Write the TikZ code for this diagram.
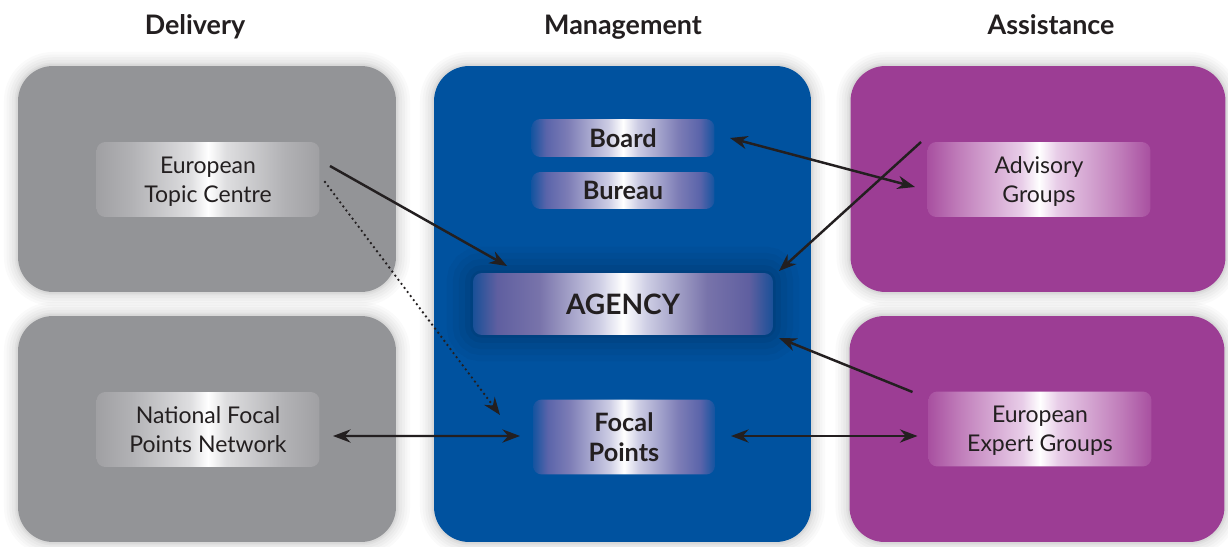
\documentclass[tikz,border=0pt]{standalone}
\usepackage{fontspec}
\setmainfont{Lato}
\usetikzlibrary{arrows.meta}
\definecolor{txt}{RGB}{35,31,32}
\definecolor{boxgray}{RGB}{147,148,151}
\definecolor{boxblue}{RGB}{0,82,159}
\definecolor{boxpurple}{RGB}{156,61,148}
% gray inner shading
\definecolor{g0}{RGB}{160,160,163}
\definecolor{g1}{RGB}{178,178,181}
\definecolor{g2}{RGB}{222,222,224}
\pgfdeclarehorizontalshading{metalgray}{100bp}{color(0bp)=(g0); color(25bp)=(g0); color(33bp)=(g1); color(46bp)=(g2); color(50bp)=(white); color(54bp)=(g2); color(67bp)=(g1); color(75bp)=(g0); color(100bp)=(g0)}
% blue inner shading
\definecolor{b0}{RGB}{20,84,160}
\definecolor{b1}{RGB}{90,100,170}
\definecolor{b2}{RGB}{125,125,182}
\definecolor{b3}{RGB}{205,205,228}
\pgfdeclarehorizontalshading{metalblue}{100bp}{color(0bp)=(b0); color(25bp)=(b0); color(29bp)=(b1); color(35bp)=(b2); color(46bp)=(b3); color(50bp)=(white); color(54bp)=(b3); color(65bp)=(b2); color(71bp)=(b1); color(75bp)=(b0); color(100bp)=(b0)}
% agency shading
\definecolor{a0}{RGB}{25,80,152}
\definecolor{a1}{RGB}{95,95,160}
\definecolor{a2}{RGB}{120,115,170}
\definecolor{a3}{RGB}{205,205,228}
\pgfdeclarehorizontalshading{metalagency}{100bp}{color(0bp)=(a0); color(25bp)=(a0); color(29bp)=(a1); color(36bp)=(a2); color(46bp)=(a3); color(50bp)=(white); color(54bp)=(a3); color(64bp)=(a2); color(71bp)=(a1); color(75bp)=(a0); color(100bp)=(a0)}
% purple inner shading
\definecolor{p0}{RGB}{168,80,160}
\definecolor{p1}{RGB}{192,125,186}
\definecolor{p2}{RGB}{232,205,232}
\pgfdeclarehorizontalshading{metalpurple}{100bp}{color(0bp)=(p0); color(25bp)=(p0); color(32bp)=(p1); color(46bp)=(p2); color(50bp)=(white); color(54bp)=(p2); color(68bp)=(p1); color(75bp)=(p0); color(100bp)=(p0)}
\begin{document}
\begin{tikzpicture}[x=0.02cm,y=-0.02cm,
  halo/.style={preaction={draw=black,opacity=0.02,line width=16pt},
               preaction={draw=black,opacity=0.02,line width=13pt},
               preaction={draw=black,opacity=0.025,line width=10pt},
               preaction={draw=black,opacity=0.025,line width=7pt},
               preaction={draw=black,opacity=0.03,line width=4pt},
               preaction={draw=black,opacity=0.04,line width=2pt}},
  bigbox/.style={halo,rounded corners=0.7cm,minimum width=7.56cm,minimum height=4.52cm,outer sep=0pt,inner sep=0pt},
  inbox/.style={rounded corners=5pt,outer sep=0pt,inner sep=0pt,text=txt,align=center},
  graybox/.style={inbox,shading=metalgray,minimum width=4.46cm,minimum height=1.5cm,text depth=-3.5pt,font=\fontsize{13.1}{16.6}\selectfont},
  purplebox/.style={inbox,shading=metalpurple,minimum width=4.46cm,minimum height=1.5cm,text depth=-3.5pt,font=\fontsize{13.1}{16.6}\selectfont},
  bluebox/.style={inbox,shading=metalblue,minimum width=3.66cm,font=\bfseries\fontsize{14.4}{17}\selectfont},
  title/.style={font=\bfseries\fontsize{15.3}{18}\selectfont,text=txt,anchor=base},
  arr/.style={draw=txt,line width=1.4pt,-{Stealth[length=10pt,width=7.5pt]}},
  darr/.style={draw=txt,line width=1.4pt,{Stealth[length=10pt,width=7.5pt]}-{Stealth[length=10pt,width=7.5pt]}},
  dotarr/.style={draw=txt,line width=1.5pt,line cap=round,dash pattern=on 0pt off 2.9pt,-{Stealth[length=10pt,width=7.5pt]}}]
\useasboundingbox (0,0) rectangle (1228,547);
\fill[white] (0,0) rectangle (1228,547);
% titles
\node[title] (tdel) at (195,34.5) {Delivery};
\node[title] (tman) at (623,34.5) {Management};
\node[title] (tass) at (1051,34.5) {Assistance};
% big boxes
\node[bigbox,fill=boxgray] (gtop) at (207,179) {};
\node[bigbox,fill=boxgray] (gbot) at (207,429) {};
\node[bigbox,fill=boxblue,minimum width=7.54cm,minimum height=9.52cm] (blue) at (622.5,304) {};
\node[bigbox,fill=boxpurple,minimum width=7.5cm] (ptop) at (1038,179) {};
\node[bigbox,fill=boxpurple,minimum width=7.5cm] (pbot) at (1037,429) {};
% inner boxes
\node[graybox] (etc) at (208,179.5) {European\\Topic Centre};
\node[graybox] (nfpn) at (208,429.5) {National Focal\\Points Network};
\node[purplebox] (adv) at (1039,179.5) {Advisory\\Groups};
\node[purplebox] (exp) at (1040,429) {European\\Expert Groups};
\node[bluebox,minimum height=0.76cm] (board) at (623,138) {Board};
\node[bluebox,minimum height=0.74cm] (bureau) at (623,190.5) {Bureau};
\node[bluebox,minimum width=3.64cm,minimum height=1.5cm,text depth=0pt] (focal) at (624,437) {Focal\\Points};
\node[inbox,shading=metalagency,minimum width=6cm,minimum height=1.24cm,font=\bfseries\fontsize{16}{20}\selectfont,
  preaction={draw=black,opacity=0.03,line width=30pt},
  preaction={draw=black,opacity=0.035,line width=23pt},
  preaction={draw=black,opacity=0.04,line width=16pt},
  preaction={draw=black,opacity=0.045,line width=9pt},
  preaction={draw=black,opacity=0.05,line width=3pt}] (agency) at (623,304) {AGENCY};
% connectors
\draw[arr] ([shift={(10.5,-13.5)}]etc.east) -- ([shift={(34,-7)}]agency.north west);
\draw[dotarr] ([shift={(5.5,2.5)}]etc.east) -- ([shift={(-33,15.5)}]focal.north west);
\draw[darr] ([shift={(15.5,0)}]board.east) -- ([shift={(-12.5,7.5)}]adv.west);
\draw[arr] ([shift={(-6.5,0)}]adv.north west) -- ([shift={(6,-2)}]agency.north east);
\draw[arr] ([shift={(-16,0.5)}]exp.north west) -- ([shift={(6,3)}]agency.south east);
\draw[darr] ([shift={(13.5,6.5)}]nfpn.east) -- ([shift={(-13,-1)}]focal.west);
\draw[darr] ([shift={(16,-1)}]focal.east) -- ([shift={(-11,7)}]exp.west);
\end{tikzpicture}
\end{document}
